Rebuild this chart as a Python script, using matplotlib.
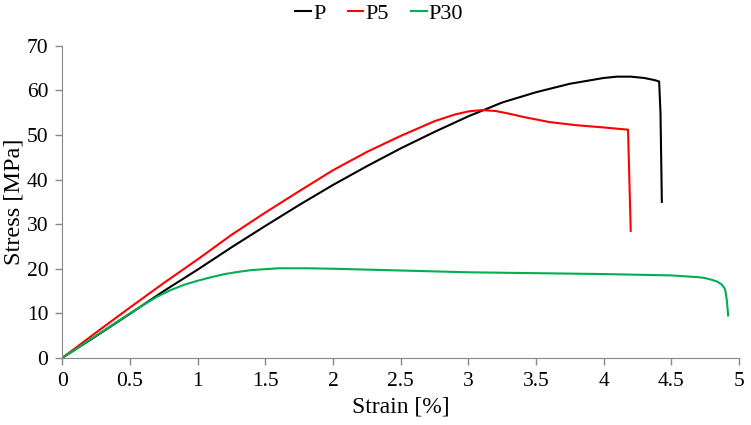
import matplotlib.pyplot as plt

# curves
strain_p = [0, 0.25, 0.5, 0.75, 1, 1.25, 1.5, 1.75, 2, 2.25, 2.5, 2.75, 3, 3.25,
            3.5, 3.75, 4, 4.1, 4.2, 4.3, 4.38, 4.41, 4.42, 4.43]
stress_p = [0, 4.9, 9.9, 15, 19.8, 24.8, 29.6, 34.3, 38.8, 43, 47, 50.7, 54.2, 57.3,
            59.6, 61.5, 62.8, 63.1, 63.1, 62.8, 62.3, 62, 55, 35]

strain_p5 = [0, 0.25, 0.5, 0.75, 1, 1.25, 1.5, 1.75, 2, 2.25, 2.5, 2.75, 2.9, 3,
             3.1, 3.2, 3.3, 3.4, 3.6, 3.8, 4, 4.18, 4.19, 4.2]
stress_p5 = [0, 5.7, 11.3, 16.8, 22.1, 27.6, 32.6, 37.4, 42.1, 46.2, 49.8, 53.1, 54.6, 55.3,
             55.6, 55.4, 54.8, 54.1, 52.9, 52.2, 51.7, 51.2, 40, 28.5]

strain_p30 = [0, 0.25, 0.5, 0.6, 0.7, 0.8, 0.9, 1.0, 1.1, 1.2, 1.3, 1.4, 1.5, 1.6,
              1.8, 2, 2.5, 3, 3.5, 4, 4.5, 4.6, 4.7, 4.75, 4.8, 4.84, 4.87, 4.89,
              4.9, 4.91, 4.92]
stress_p30 = [0, 5, 10, 11.9, 13.7, 15.2, 16.4, 17.3, 18.1, 18.8, 19.3, 19.7, 19.9, 20.1,
              20.1, 20.0, 19.6, 19.2, 19.0, 18.8, 18.5, 18.3, 18.1, 17.9, 17.5, 17.1, 16.5, 15.8,
              15, 13, 9.5]

plt.rcParams['font.family'] = ['Liberation Serif', 'DejaVu Serif']

fig, ax = plt.subplots(figsize=(7.51, 4.25), dpi=100)
fig.subplots_adjust(left=0.083, right=0.984, top=0.892, bottom=0.158)

ax.plot(strain_p, stress_p, color='black', lw=1.5, label='P')
ax.plot(strain_p5, stress_p5, color='#ff0000', lw=1.5, label='P5')
ax.plot(strain_p30, stress_p30, color='#00b050', lw=1.5, label='P30')

ax.set_xlim(0, 5)
ax.set_ylim(0, 70)
ax.set_xticks([0, 0.5, 1, 1.5, 2, 2.5, 3, 3.5, 4, 4.5, 5])
ax.set_xticklabels(['0', '0.5', '1', '1.5', '2', '2.5', '3', '3.5', '4', '4.5', '5'])
ax.set_yticks(range(0, 71, 10))
ax.set_xlabel('Strain [%]', fontsize=17, labelpad=4)
ax.set_ylabel('Stress [MPa]', fontsize=17.5, labelpad=2)

for s in ['top', 'right']:
    ax.spines[s].set_visible(False)
for s in ['left', 'bottom']:
    ax.spines[s].set_color('#888888')
ax.tick_params(color='#888888', length=5, width=1, pad=5, labelsize=15.5)

fig.legend(loc='upper center', bbox_to_anchor=(0.505, 1.018), ncol=3, frameon=False,
           handlelength=0.7, handletextpad=0.1, columnspacing=1.0, fontsize=16,
           borderaxespad=0.1)

fig.savefig('out.png')
